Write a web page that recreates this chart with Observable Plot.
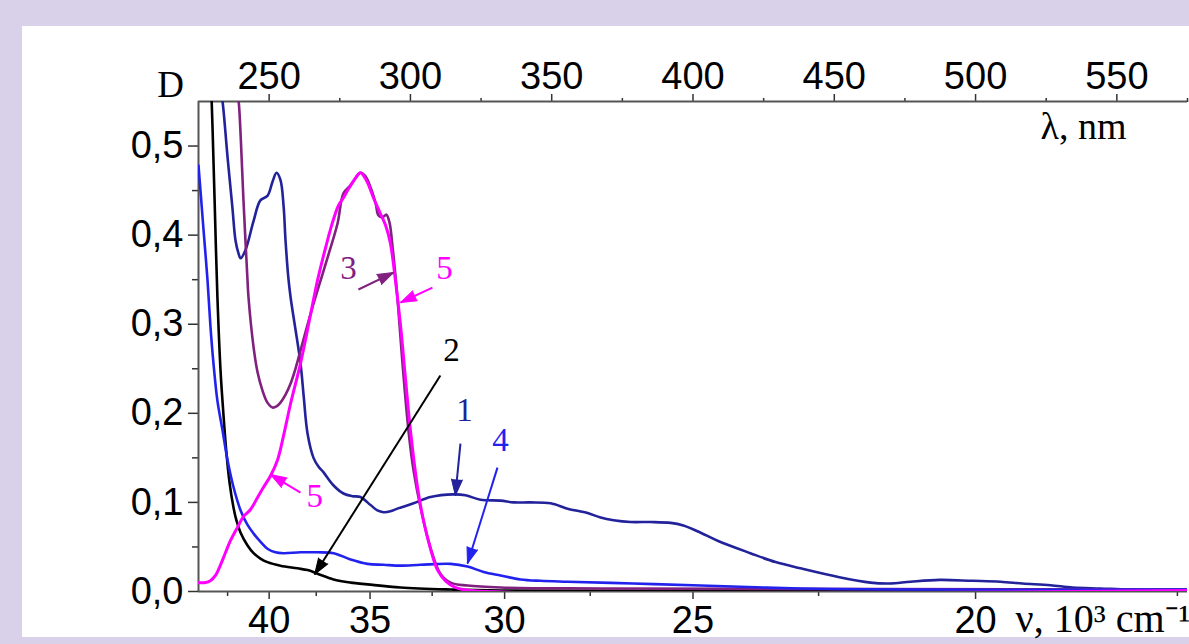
<!DOCTYPE html>
<html><head><meta charset="utf-8">
<script src="https://cdn.jsdelivr.net/npm/d3@7"></script>
<script src="https://cdn.jsdelivr.net/npm/@observablehq/plot@0.6"></script>
<style>
html,body{margin:0;padding:0;background:#d9d1ea;width:1189px;height:644px;overflow:hidden}
#panel{position:absolute;left:22px;top:26px;width:1167px;height:611px;background:#fff}
#chart{position:absolute;left:0;top:0}
</style></head><body><div id="panel"></div><div id="chart"></div>
<script>
// Wavelength (nm) and optical density D for each spectrum
const curve1 = [[233.1,0.556],[233.5,0.550],[235.3,0.487],[237.0,0.431],[238.1,0.394],[239.2,0.379],[239.9,0.374],[241.6,0.383],[244.5,0.416],[246.9,0.439],[249.4,0.444],[251.2,0.460],[252.6,0.470],[254.0,0.462],[255.1,0.433],[255.8,0.394],[256.8,0.352],[257.6,0.330],[261.1,0.256],[262.2,0.220],[263.6,0.177],[265.7,0.150],[267.5,0.140],[269.2,0.134],[272.8,0.119],[276.3,0.110],[279.5,0.107],[282.3,0.106],[285.9,0.097],[288.3,0.091],[290.5,0.089],[292.9,0.090],[295.4,0.093],[301.1,0.099],[307.1,0.106],[315.2,0.109],[319.5,0.108],[324.8,0.103],[331.9,0.102],[336.5,0.100],[342.5,0.100],[349.6,0.099],[355.6,0.093],[362.7,0.088],[367.3,0.083],[371.9,0.080],[377.9,0.078],[385.0,0.078],[392.1,0.077],[396.6,0.074],[402.7,0.066],[408.7,0.057],[420.3,0.043],[429.2,0.033],[438.0,0.026],[451.8,0.016],[462.8,0.010],[469.5,0.009],[477.0,0.011],[487.2,0.013],[498.9,0.012],[508.8,0.011],[516.6,0.009],[526.5,0.007],[534.3,0.0045],[544.2,0.0034],[554.8,0.0022],[575,0.0022]];
const curve2 = [[229.6,0.556],[230.0,0.517],[230.7,0.439],[231.7,0.330],[232.8,0.248],[233.8,0.200],[234.9,0.155],[236.0,0.122],[237.4,0.094],[238.4,0.080],[239.9,0.066],[242.3,0.052],[244.5,0.043],[246.9,0.037],[249.4,0.033],[254.0,0.029],[260.0,0.026],[263.6,0.024],[267.1,0.020],[272.8,0.0135],[278.8,0.010],[284.8,0.008],[296.5,0.0045],[314.2,0.0022],[331.9,0.001],[575,0.001]];
const curve3 = [[238.8,0.556],[239.2,0.550],[240.0,0.506],[240.9,0.440],[242.3,0.352],[242.7,0.330],[244.5,0.274],[245.9,0.246],[247.6,0.226],[249.4,0.212],[251.2,0.2065],[252.6,0.2077],[254.0,0.212],[255.8,0.221],[257.6,0.2335],[259.5,0.252],[261.1,0.2705],[265.7,0.323],[270.7,0.375],[274.2,0.413],[276.3,0.447],[278.8,0.456],[280.6,0.464],[282.3,0.470],[284.1,0.466],[285.9,0.4535],[287.7,0.4355],[288.7,0.422],[290.1,0.420],[291.5,0.423],[292.6,0.414],[293.7,0.386],[295.4,0.330],[297.2,0.256],[299.3,0.181],[301.1,0.136],[303.6,0.094],[307.1,0.049],[310.6,0.020],[314.2,0.010],[320.2,0.0067],[331.9,0.0045],[367.3,0.0034],[575,0.0022]];
const curve4 = [[225.0,0.478],[225.7,0.450],[226.8,0.405],[228.2,0.349],[229.2,0.299],[230.3,0.256],[231.7,0.214],[233.5,0.181],[235.3,0.147],[237.4,0.117],[239.9,0.091],[242.3,0.075],[244.5,0.065],[246.9,0.056],[249.4,0.048],[252.2,0.044],[255.1,0.043],[261.1,0.044],[267.1,0.044],[272.8,0.043],[278.8,0.036],[284.8,0.031],[290.5,0.030],[296.5,0.029],[303.6,0.030],[314.2,0.031],[320.2,0.028],[325.9,0.022],[331.9,0.018],[339.0,0.0135],[346.0,0.012],[355.6,0.011],[378.9,0.009],[402.7,0.0067],[438.0,0.0034],[473.4,0.0022],[575,0.0022]];
const curve5 = [[225.0,0.010],[227.5,0.010],[229.2,0.012],[231.0,0.018],[232.8,0.030],[234.6,0.044],[236.3,0.057],[238.8,0.072],[240.9,0.084],[243.4,0.092],[245.9,0.1055],[248.0,0.117],[250.5,0.130],[253.0,0.148],[255.1,0.175],[257.6,0.211],[261.1,0.256],[264.6,0.310],[267.1,0.349],[269.9,0.385],[272.4,0.414],[274.5,0.433],[276.3,0.442],[278.1,0.452],[279.9,0.461],[282.3,0.470],[284.5,0.461],[286.9,0.442],[289.4,0.424],[291.2,0.411],[292.9,0.391],[294.7,0.349],[296.5,0.2986],[298.3,0.237],[300.0,0.181],[302.5,0.117],[304.6,0.080],[307.1,0.048],[309.6,0.024],[312.4,0.012],[315.9,0.0045],[321.3,0.001],[575,0.001]];

// Axis ticks
const lambdaTicks = [250, 300, 350, 400, 450, 500, 550];
const lambdaMinor = [275, 325, 375, 425, 475, 525, 575];
const nuTicks = [40, 35, 30, 25, 20];
const nuMinor = [42.5, 37.5, 32.5, 27.5, 22.5, 17.5];
const dTicks = [0, 0.1, 0.2, 0.3, 0.4, 0.5];
const dMinor = [0.05, 0.15, 0.25, 0.35, 0.45];

// Annotations: curve number, arrow tail, arrow tip, label position (λ, D)
const annoCurve = ["5", "2", "1", "4", "3", "5"];
const arrowFrom = [[261.1,0.111],[310.6,0.2425],[317.7,0.166],[330.8,0.139],[281.6,0.339],[307.8,0.341]];
const arrowTo = [[250.5,0.1313],[266.1,0.0191],[315.9,0.1078],[320.2,0.0314],[294.0,0.358],[296.5,0.3244]];
const labelPos = [[266.1,0.1066],[314.5,0.2705],[319.1,0.203],[331.9,0.1695],[278.1,0.3626],[312.1,0.3626]];

const palette = {"1": "#22229a", "2": "#000000", "3": "#80207f", "4": "#2222ee", "5": "#ff00ff"};
const curves = [["1", curve1], ["2", curve2], ["3", curve3], ["4", curve4], ["5", curve5]];

const annos = annoCurve.map((c, i) => ({
  c, x1: arrowFrom[i][0], y1: arrowFrom[i][1], x2: arrowTo[i][0], y2: arrowTo[i][1],
  lx: labelPos[i][0], ly: labelPos[i][1]
}));

const serif = "'Liberation Serif', 'Times New Roman', serif";
const axisCol = "#333";

function build(extra) {
  return Plot.plot({
    width: 1189, height: 644,
    marginLeft: 198, marginRight: 2, marginTop: 101, marginBottom: 53,
    x: {domain: [225, 575]},
    y: {domain: [0, 0.55]},
    style: {background: "transparent", fontFamily: "'Liberation Sans', Arial, sans-serif", fontSize: "38px", color: "black"},
    marks: [
      Plot.axisX(lambdaTicks, {anchor: "top", tickSize: 8, tickPadding: 5, fontSize: 38, stroke: axisCol, strokeWidth: 1.5, label: null}),
      Plot.axisX(lambdaMinor, {anchor: "top", tickSize: 4, tickFormat: () => "", stroke: axisCol, strokeWidth: 1.5, label: null}),
      Plot.axisX(nuTicks.map(v => 1e4 / v), {anchor: "bottom", tickSize: 8, tickPadding: 7, fontSize: 38, stroke: axisCol, strokeWidth: 1.5, tickFormat: d => String(Math.round(1e4 / d)), label: null}),
      Plot.axisX(nuMinor.map(v => 1e4 / v), {anchor: "bottom", tickSize: 5, tickFormat: () => "", stroke: axisCol, strokeWidth: 1.5, label: null}),
      Plot.axisY(dTicks, {anchor: "left", tickSize: 10, tickPadding: 5, fontSize: 38, stroke: axisCol, strokeWidth: 1.5, tickFormat: d => d.toFixed(1).replace(".", ","), label: null}),
      Plot.axisY(dMinor, {anchor: "left", tickSize: 6, tickFormat: () => "", stroke: axisCol, strokeWidth: 1.5, label: null}),
      Plot.ruleY([0, 0.55], {stroke: "#555", strokeWidth: 2}),
      Plot.ruleX([225], {stroke: "#555", strokeWidth: 2}),
      ...curves.map(([c, pts]) => Plot.line(pts, {x: d => d[0], y: d => d[1], stroke: palette[c], strokeWidth: c === "5" ? 3 : 2.6, curve: "catmull-rom", clip: true})),
      Plot.link(annos, {x1: "x1", y1: "y1", x2: "x2", y2: "y2", stroke: d => palette[d.c], strokeWidth: 2}),
      ...extra,
      Plot.text(annos, {x: "lx", y: "ly", text: "c", fill: d => palette[d.c], fontFamily: serif, fontSize: 33, textAnchor: "middle", lineAnchor: "middle"}),
      Plot.text(["D"], {frameAnchor: "top-left", dx: -28, dy: -16, fontFamily: serif, fontSize: 37, textAnchor: "middle", lineAnchor: "middle", fill: "black"}),
      Plot.text(["λ, nm"], {frameAnchor: "top-right", dx: -147, dy: 25, fontFamily: serif, fontSize: 38, textAnchor: "start", lineAnchor: "middle", fill: "black"}),
      Plot.text(["ν, 10³ cm⁻¹"], {frameAnchor: "bottom-right", dx: 3, dy: 28, fontFamily: serif, fontSize: 40, textAnchor: "end", lineAnchor: "middle", fill: "black"})
    ]
  });
}

const base = build([]);
const sx = base.scale("x"), sy = base.scale("y");
const heads = annos.map(a => {
  const dxp = sx.apply(a.x2) - sx.apply(a.x1);
  const dyp = sy.apply(a.y2) - sy.apply(a.y1);
  return {...a, angle: Math.atan2(dxp, -dyp) * 180 / Math.PI};
});
const chart = build([
  Plot.vector(heads, {x: "x2", y: "y2", rotate: "angle", length: 16, r: 5.5, shape: "spike", anchor: "end", fill: d => palette[d.c], stroke: d => palette[d.c], strokeWidth: 1})
]);
document.getElementById("chart").appendChild(chart);
</script></body></html>
